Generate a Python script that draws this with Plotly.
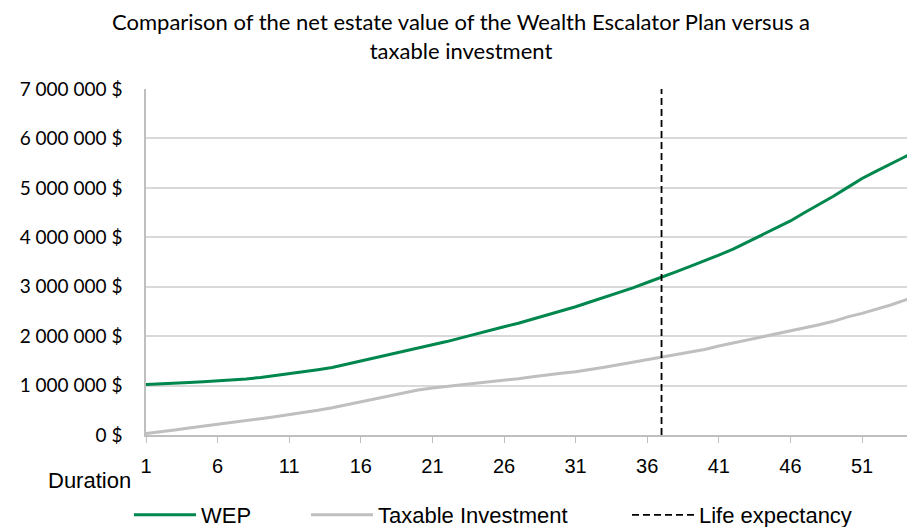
import plotly.graph_objects as go

durations = list(range(1, 56))
wep = [1.020, 1.030, 1.045, 1.060, 1.075, 1.090, 1.110, 1.135, 1.165, 1.200,
       1.240, 1.280, 1.320, 1.365, 1.430, 1.495, 1.555, 1.615, 1.680, 1.748,
       1.815, 1.890, 1.965, 2.045, 2.120, 2.190, 2.260, 2.340, 2.420, 2.505,
       2.595, 2.690, 2.785, 2.875, 2.975, 3.085, 3.200, 3.300, 3.410, 3.520,
       3.640, 3.760, 3.900, 4.050, 4.180, 4.330, 4.500, 4.660, 4.830, 5.010,
       5.190, 5.340, 5.490, 5.630, 5.770]
taxable = [0.030, 0.060, 0.100, 0.140, 0.175, 0.210, 0.250, 0.290, 0.330, 0.370,
           0.410, 0.450, 0.500, 0.550, 0.610, 0.670, 0.730, 0.790, 0.860, 0.910,
           0.950, 0.980, 1.010, 1.040, 1.070, 1.100, 1.140, 1.180, 1.220, 1.250,
           1.280, 1.320, 1.370, 1.420, 1.470, 1.520, 1.570, 1.620, 1.670, 1.730,
           1.800, 1.860, 1.920, 1.980, 2.040, 2.100, 2.160, 2.230, 2.300, 2.390,
           2.460, 2.540, 2.630, 2.730, 2.840]
wep = [v * 1e6 for v in wep]
taxable = [v * 1e6 for v in taxable]
life_expectancy = 37
y_ticks = [0, 1e6, 2e6, 3e6, 4e6, 5e6, 6e6, 7e6]
y_labels = ["0 $", "1 000 000 $", "2 000 000 $", "3 000 000 $", "4 000 000 $",
            "5 000 000 $", "6 000 000 $", "7 000 000 $"]
x_ticks = [1, 6, 11, 16, 21, 26, 31, 36, 41, 46, 51]

# page has an 8px body margin: figure drawn at offset (8, 8)
OFF = 8
W, H = 915 - OFF, 527 - OFF
L, R, T = 146 - OFF, 0, 89 - OFF
B = H - (435 - OFF)
PW, PH = W - L - R, H - T - B


def px(xpage):
    return (xpage - OFF - L) / PW


def py(ypage):
    return (H - B - (ypage - OFF)) / PH


def cx(xpage):
    return (xpage - OFF) / W


def cy(ypage):
    return 1 - (ypage - OFF) / H


fig = go.Figure()
fig.add_trace(go.Scatter(x=durations, y=wep, mode="lines", name="WEP", legend="legend",
                         showlegend=True, line=dict(color="#00874D", width=3)))
fig.add_trace(go.Scatter(x=durations, y=taxable, mode="lines", name="Taxable Investment",
                         legend="legend2", showlegend=True,
                         line=dict(color="#BFBFBF", width=3)))
fig.add_trace(go.Scatter(x=[life_expectancy, life_expectancy], y=[0, 7e6], mode="lines",
                         name="Life expectancy", legend="legend3", showlegend=True,
                         line=dict(color="black", width=1.8, dash="7px,4px")))

leg_common = dict(orientation="h", xanchor="left", yanchor="middle",
                  xref="container", yref="container", y=cy(515),
                  font=dict(family="Liberation Sans", size=22, color="black"),
                  itemwidth=62, bgcolor="rgba(0,0,0,0)", visible=True)

fig.update_layout(
    width=W, height=H,
    showlegend=True,
    margin=dict(l=L, r=R, t=T, b=B, autoexpand=False),
    paper_bgcolor="white", plot_bgcolor="white",
    xaxis=dict(range=[1, 54.7], tickvals=x_ticks, showgrid=False,
               showline=True, linecolor="#BFBFBF", linewidth=1.5,
               ticks="outside", ticklen=6, tickcolor="#BFBFBF",
               ticklabelstandoff=6,
               tickfont=dict(family="Liberation Sans", size=20, color="black"),
               zeroline=False),
    yaxis=dict(range=[0, 7e6], tickvals=y_ticks, ticktext=y_labels,
               showgrid=True, gridcolor="#D9D9D9", gridwidth=1.5,
               showline=True, linecolor="#BFBFBF", linewidth=1.5,
               ticks="", ticklabelstandoff=18, zeroline=False,
               tickfont=dict(family="Lato", size=19, color="black")),
    legend=dict(x=cx(129), **leg_common),
    legend2=dict(x=cx(306), **leg_common),
    legend3=dict(x=cx(627), **leg_common),
    annotations=[
        dict(text="Comparison of the net estate value of the Wealth Escalator Plan versus a<br>taxable investment",
             xref="paper", yref="paper", x=px(461), y=py(36),
             xanchor="center", yanchor="middle", showarrow=False,
             font=dict(family="Lato", size=22, color="black")),
        dict(text="Duration", xref="paper", yref="paper",
             x=px(133), y=py(480),
             xanchor="right", yanchor="middle", showarrow=False,
             font=dict(family="Liberation Sans", size=22, color="black")),
    ],
)

fig.write_html("out.html")
